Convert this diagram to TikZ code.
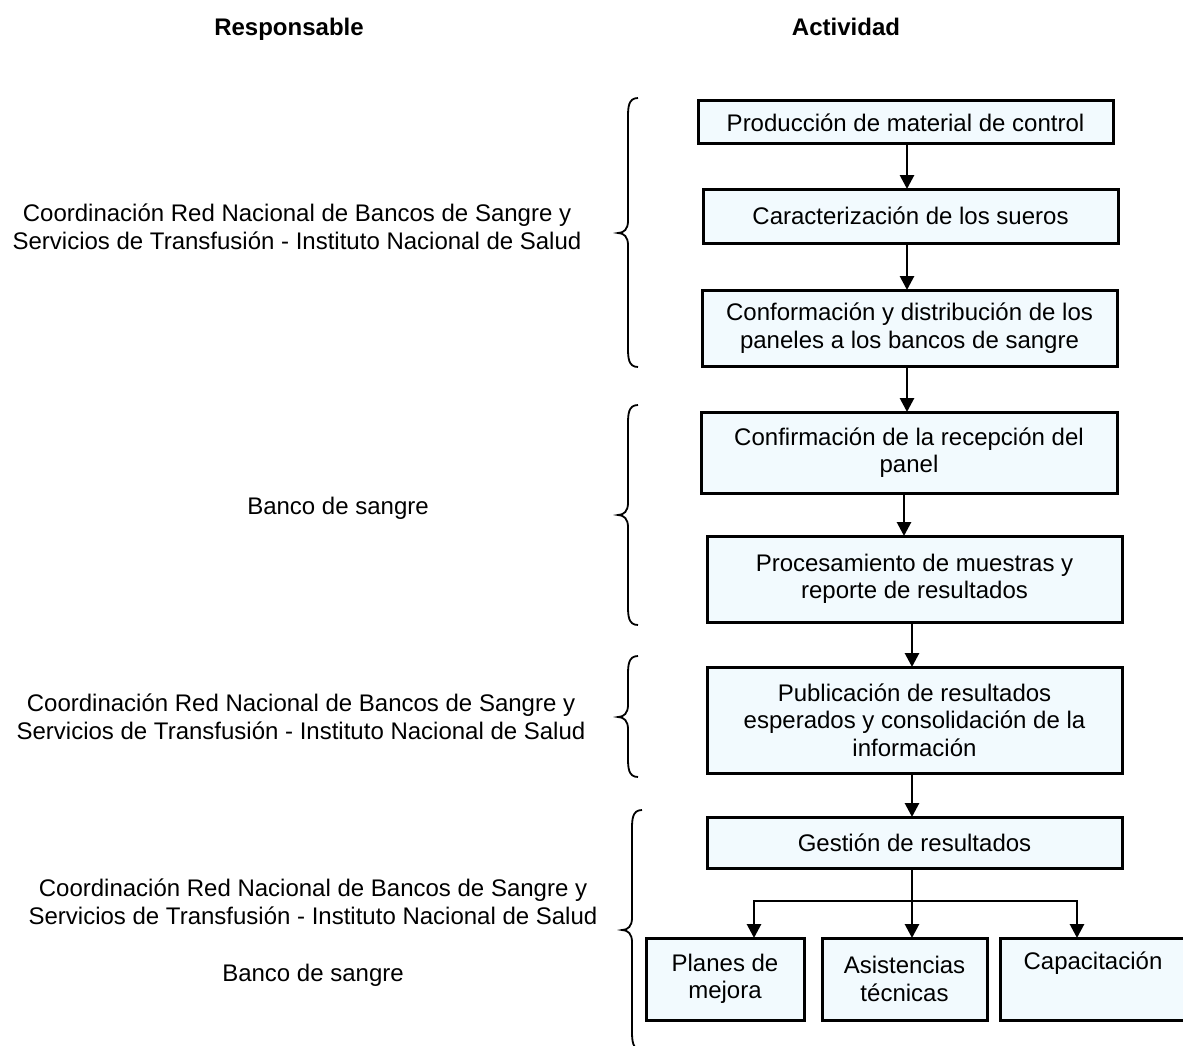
\documentclass[tikz,border=0pt]{standalone}
\usepackage{fontspec}
\setmainfont{Liberation Sans}
\usetikzlibrary{arrows.meta}
\definecolor{boxfill}{RGB}{242,250,254}
\begin{document}
\begin{tikzpicture}[x=1pt,y=-1pt,
  every node/.style={font=\fontsize{24}{27.5}\selectfont},
  actbox/.style={draw=black, line width=3pt, fill=boxfill, align=center, inner sep=0pt, outer sep=0pt},
  arr/.style={line width=2.8pt, -{Triangle[width=14pt,length=14pt]}},
  ln/.style={line width=2.8pt},
  brc/.style={line width=1.8pt},
  lbl/.style={align=center},
  hdr/.style={font=\fontsize{24}{27.5}\selectfont\bfseries}]
\useasboundingbox (0,0) rectangle (1183,1046);

% headers
\node[hdr] (hr) at (289,29) {Responsable};
\node[hdr] (ha) at (846,27) {Actividad};

% responsible labels
\node[lbl] (l1) at (297,227) {Coordinación Red Nacional de Bancos de Sangre y\\Servicios de Transfusión - Instituto Nacional de Salud};
\node[lbl] (l2) at (338,508) {Banco de sangre};
\node[lbl] (l3) at (301,717) {Coordinación Red Nacional de Bancos de Sangre y\\Servicios de Transfusión - Instituto Nacional de Salud};
\node[lbl] (l4) at (313,902) {Coordinación Red Nacional de Bancos de Sangre y\\Servicios de Transfusión - Instituto Nacional de Salud};
\node[lbl] (l5) at (313,975) {Banco de sangre};

% activity boxes
\node[actbox, minimum width=415pt, minimum height=43pt] (b1) at (905.5,122.5) {Producción de material de control};
\node[actbox, minimum width=415pt, minimum height=54pt] (b2) at (910.5,216) {Caracterización de los sueros};
\node[actbox, minimum width=415pt, minimum height=76pt] (b3) at (909.5,328) {Conformación y distribución de los\\paneles a los bancos de sangre};
\node[actbox, minimum width=416pt, minimum height=81pt] (b4) at (909,452.5) {Confirmación de la recepción del\\panel};
\node[actbox, minimum width=415pt, minimum height=86pt] (b5) at (914.5,579) {Procesamiento de muestras y\\reporte de resultados};
\node[actbox, minimum width=415pt, minimum height=106pt] (b6) at (914.5,720) {Publicación de resultados\\esperados y consolidación de la\\información};
\node[actbox, minimum width=415pt, minimum height=51pt] (b7) at (914.5,842.5) {Gestión de resultados};
\node[actbox, minimum width=158pt, minimum height=82pt] (b8) at (725,979) {Planes de\\mejora};
\node[actbox, minimum width=165pt, minimum height=82pt] (b9) at (904.5,979) {Asistencias\\técnicas};
\node[actbox, minimum width=186pt, minimum height=82pt] (b10) at (1093,979) {Capacitación\\\strut};

% arrow columns
\coordinate (c1) at (907,0);
\coordinate (c4) at (904,0);
\coordinate (c5) at (912,0);
\coordinate (jc) at (912,901);
\coordinate (jl) at (754,901);
\coordinate (jr) at (1077,901);

\draw[arr] (b1.south -| c1) -- (b2.north -| c1);
\draw[arr] (b2.south -| c1) -- (b3.north -| c1);
\draw[arr] (b3.south -| c1) -- (b4.north -| c1);
\draw[arr] (b4.south -| c4) -- (b5.north -| c4);
\draw[arr] (b5.south -| c5) -- (b6.north -| c5);
\draw[arr] (b6.south -| c5) -- (b7.north -| c5);
\draw[ln] (b7.south -| jc) -- (jc);
\draw[ln, line cap=rect] (jl) -- (jr);
\draw[arr] (jc) -- (b9.north -| jc);
\draw[arr] (jl) -- (b8.north -| jl);
\draw[arr] (jr) -- (b10.north -| jr);

% braces
\draw[brc] (638,98) .. controls (628,98) and (628,108) .. (628,118) -- (628,221) .. controls (628,229) and (624,233) .. (618,233) .. controls (624,233) and (628,237) .. (628,245) -- (628,347) .. controls (628,357) and (628,367) .. (638,367);
\draw[brc] (638,405) .. controls (628,405) and (628,415) .. (628,425) -- (628,503) .. controls (628,511) and (624,515) .. (618,515) .. controls (624,515) and (628,519) .. (628,527) -- (628,605) .. controls (628,615) and (628,625) .. (638,625);
\draw[brc] (638,656) .. controls (628,656) and (628,666) .. (628,676) -- (628,705) .. controls (628,713) and (624,717) .. (618,717) .. controls (624,717) and (628,721) .. (628,729) -- (628,757) .. controls (628,767) and (628,777) .. (638,777);
\draw[brc] (642,810) .. controls (632,810) and (632,820) .. (632,830) -- (632,918) .. controls (632,926) and (628,930) .. (622,930) .. controls (628,930) and (632,934) .. (632,942) -- (632,1030) .. controls (632,1040) and (632,1050) .. (642,1050);
\end{tikzpicture}
\end{document}
